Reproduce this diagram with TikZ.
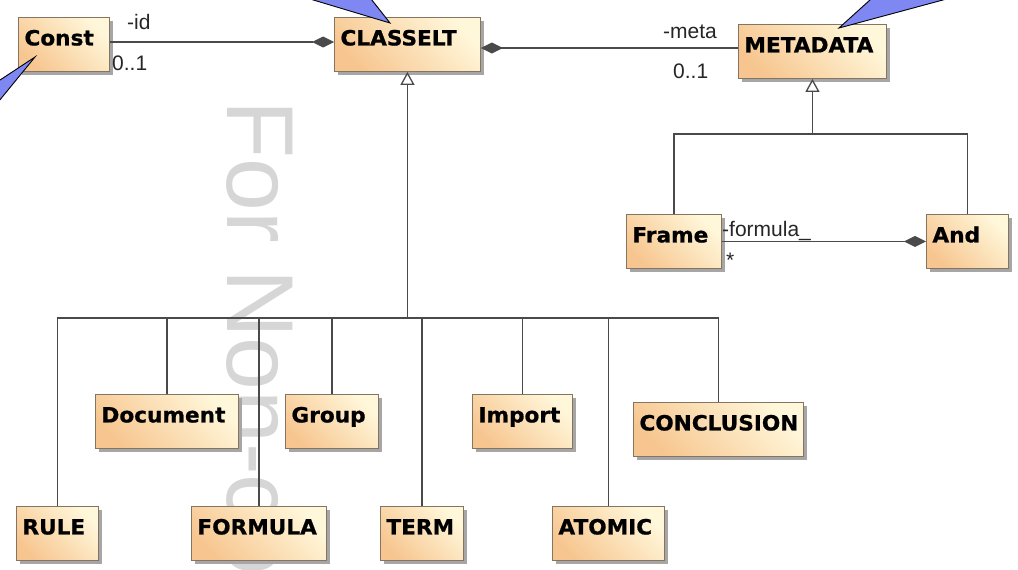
\documentclass[tikz,border=0pt]{standalone}
\usepackage{fontspec}
\setmainfont{Liberation Sans}
\newfontfamily\boxfont{DejaVu Sans}[FakeStretch=1.03, FakeBold=0.8]
\usetikzlibrary{arrows.meta,shadows}

\definecolor{umlline}{HTML}{4A4A4A}
\definecolor{umlborder}{HTML}{857560}
\definecolor{fillwarm}{HTML}{F7C690}
\definecolor{fillpale}{HTML}{FFF7DA}
\definecolor{calloutblue}{HTML}{7F87F3}
\definecolor{watergray}{HTML}{D6D6D6}

\begin{document}
\begin{tikzpicture}[x=1pt,y=-1pt,
  umlclass/.style={draw=umlborder, line width=0.9pt,
    top color=fillwarm, bottom color=fillpale, shading angle=135,
    general shadow={fill=black!35, shadow xshift=4pt, shadow yshift=-4pt},
    font=\boxfont\bfseries\fontsize{21}{21}\selectfont,
    align=left, inner xsep=6pt, inner ysep=0pt,
    minimum height=54pt, text height=15pt, text depth=13pt, anchor=north west},
  assoc/.style={draw=umlline, line width=1.3pt},
  comp/.style={assoc, -{Diamond[length=22pt, width=11pt, fill=umlline]}},
  gen/.style={assoc, -{Triangle[open, length=13pt, width=14pt, fill=white]}},
  role/.style={font=\fontsize{21}{21}\selectfont, inner sep=0pt, anchor=base west, text=black!85},
  callout/.style={fill=calloutblue, draw=black, line width=0.9pt, line join=miter}
]
\clip (0,0) rectangle (1018,570);
\fill[white] (0,0) rectangle (1018,570);

% licence stamp in the background
\node[rotate=-90, anchor=base west, inner sep=0pt, text=watergray,
      font=\fontsize{95}{95}\selectfont] (stamp) at (227,100) {For Non-commercial use};

% classes
\node[umlclass, text width=79pt]  (const)    at (18,17)   {Const};
\node[umlclass, text width=134pt] (classelt) at (334,17)  {CLASSELT};
\node[umlclass, text width=136pt] (metadata) at (738,24)  {METADATA};
\node[umlclass, text width=83pt]  (frame)    at (626,214) {Frame};
\node[umlclass, text width=70pt]  (and)      at (926,214) {And};
\node[umlclass, text width=131pt] (document) at (95,394)  {Document};
\node[umlclass, text width=81pt]  (group)    at (285,394) {Group};
\node[umlclass, text width=88pt]  (import)   at (472,394) {Import};
\node[umlclass, text width=158pt] (conclusion) at (633,402) {CONCLUSION};
\node[umlclass, text width=70pt]  (rule)     at (16,506)  {RULE};
\node[umlclass, text width=123pt] (formula)  at (191,506) {FORMULA};
\node[umlclass, text width=71pt]  (term)     at (380,506) {TERM};
\node[umlclass, text width=100pt] (atomic)   at (552,506) {ATOMIC};

% compositions
\draw[comp] (const.east |- 0,42) -- (classelt.west |- 0,42);
\draw[comp] (metadata.west |- 0,48) -- (classelt.east |- 0,48);
\draw[comp] (frame.east) -- (and.west);

% role names and multiplicities
\node[role] (lid)    at (127,29)  {-id};
\node[role] (mid)    at (112,70)  {0..1};
\node[role] (lmeta)  at (663,38)  {-meta};
\node[role] (mmeta)  at (673,78)  {0..1};
\node[role] (lform)  at (722,236) {-formula\_};
\node[role] (mform)  at (726,267) {*};

% generalisation tree below CLASSELT
\draw[assoc] (rule.north) -- (rule.north |- 0,318) -- (conclusion.north |- 0,318) -- (conclusion.north);
\draw[assoc] (document.north) -- (document.north |- 0,318);
\draw[assoc] (formula.north) -- (formula.north |- 0,318);
\draw[assoc] (group.north) -- (group.north |- 0,318);
\draw[assoc] (term.north) -- (term.north |- 0,318);
\draw[assoc] (import.north) -- (import.north |- 0,318);
\draw[assoc] (atomic.north) -- (atomic.north |- 0,318);
\draw[gen] (classelt.south |- 0,318) -- (classelt.south);

% generalisation tree below METADATA
\draw[assoc] (frame.north) |- (and.north |- 0,134) -- (and.north);
\draw[gen] (metadata.south |- 0,134) -- (metadata.south);

% note pointers
\filldraw[callout] (280,-10) -- (390,23) -- (364,-10) -- cycle;
\filldraw[callout] (881,-10) -- (839,28) -- (980,-10) -- cycle;
\filldraw[callout] (-10,86.6) -- (35,57) -- (-10,112) -- cycle;
\end{tikzpicture}
\end{document}
